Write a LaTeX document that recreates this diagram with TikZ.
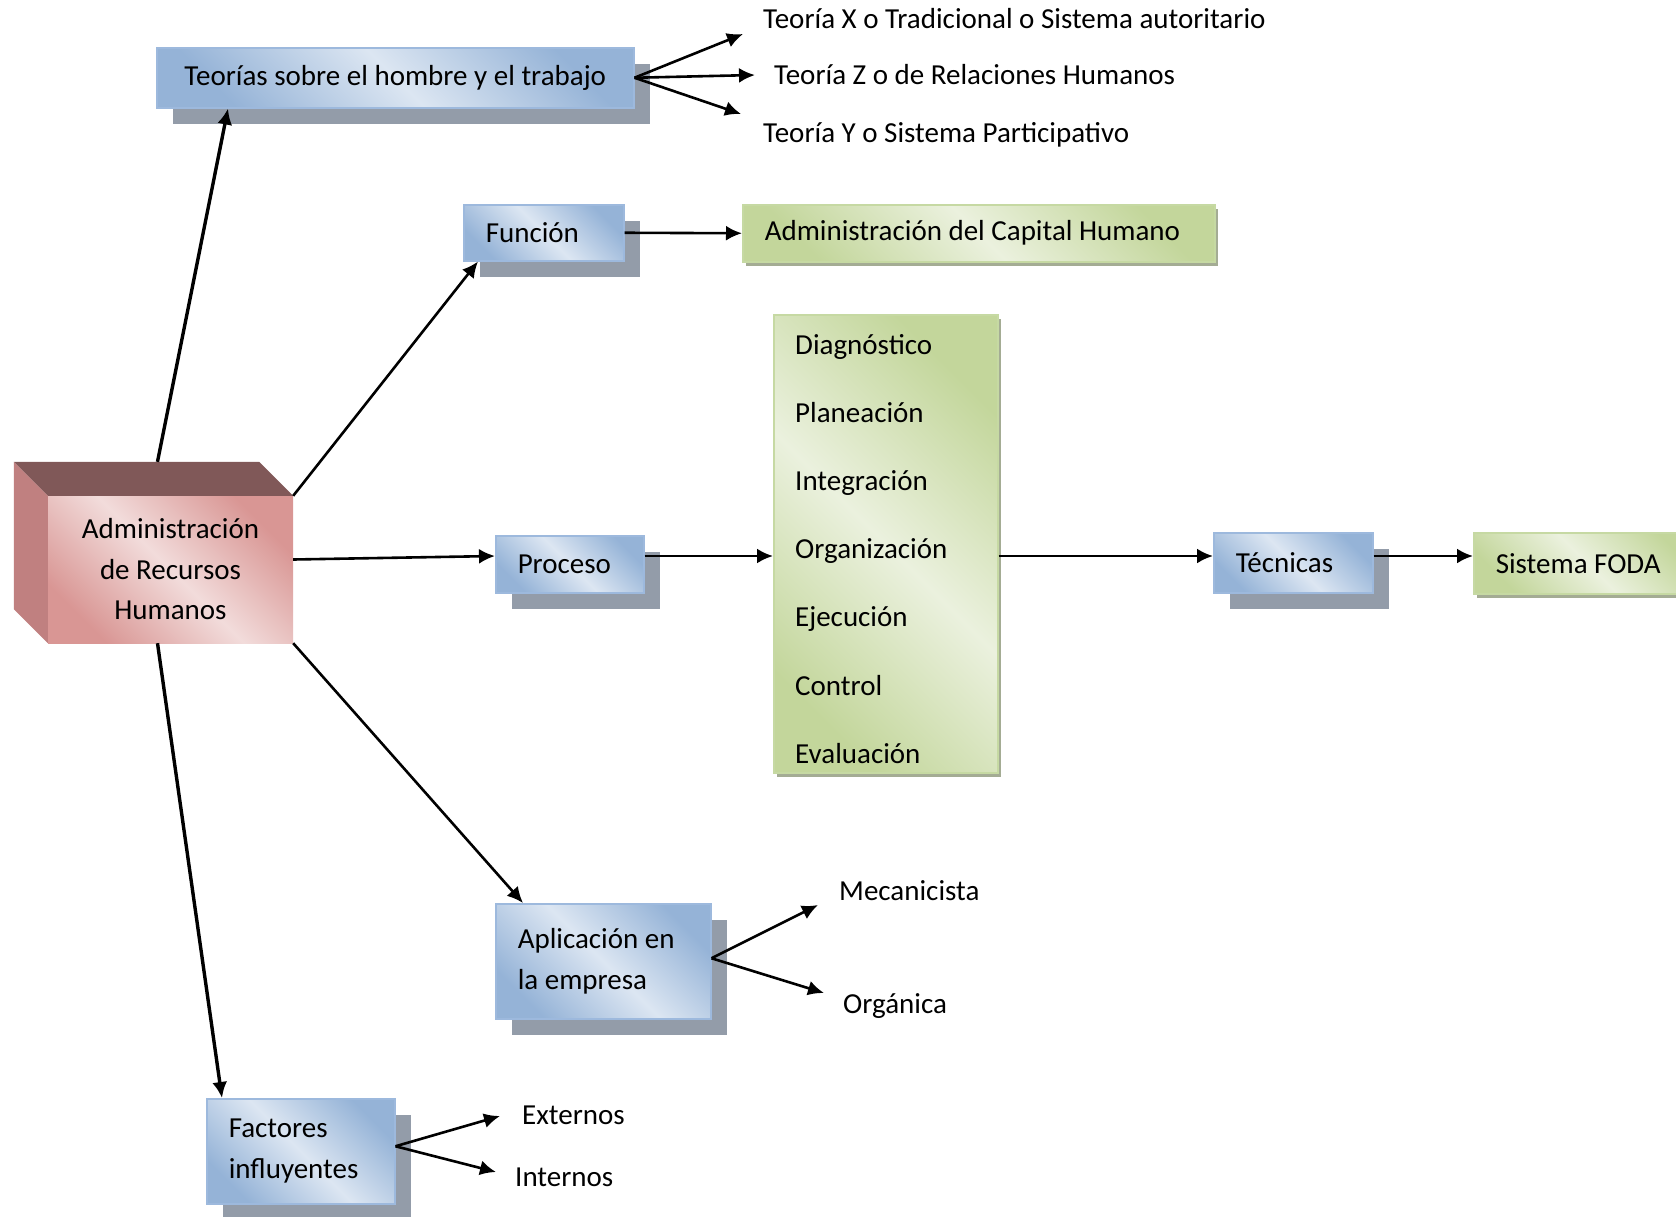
\documentclass[tikz,border=0pt]{standalone}
\usepackage{fontspec}
\setmainfont{Carlito}
\usetikzlibrary{arrows.meta}
\definecolor{azulosc}{HTML}{95B3D7}
\definecolor{azulcla}{HTML}{DCE6F2}
\definecolor{azulborde}{HTML}{9DB9DD}
\definecolor{sombraazul}{HTML}{939CA9}
\definecolor{verdeosc}{HTML}{C3D69B}
\definecolor{verdecla}{HTML}{EBF1DE}
\definecolor{verdeborde}{HTML}{C6D9A3}
\definecolor{sombraverde}{HTML}{A4AC94}
\definecolor{rosaosc}{HTML}{D99694}
\definecolor{rosacla}{HTML}{F2DCDB}
\definecolor{cubotapa}{HTML}{805858}
\definecolor{cubolado}{HTML}{C08080}
\tikzset{
  letra/.style={font=\fontsize{29}{41}\selectfont},
  texto/.style={letra, inner sep=0pt, anchor=west, text height=22pt, text depth=4pt},
  caja/.style={letra, anchor=north west, align=flush left, inner xsep=22pt, inner ysep=0pt},
  azul/.style={caja, draw=azulborde, line width=1.5pt, top color=azulosc, bottom color=azulosc,
    middle color=azulcla, shading angle=-45,
    preaction={fill=sombraazul, transform canvas={shift={(16pt,-16pt)}}}},
  verde/.style={caja, draw=verdeborde, line width=1.5pt, top color=verdeosc, bottom color=verdeosc,
    middle color=verdecla, shading angle=-45,
    preaction={fill=sombraverde, transform canvas={shift={(3pt,-4pt)}}}},
  cubo/.style={font=\fontsize{29}{40.5}\selectfont, align=center, inner sep=0pt,
    minimum width=245pt, minimum height=147pt, top color=rosaosc, bottom color=rosaosc,
    middle color=rosacla, shading angle=-45},
  flecha/.style={-{Latex[length=16pt,width=15pt]}, line width=2.6pt},
  gruesa/.style={flecha, line width=3.4pt},
}
\begin{document}
\begin{tikzpicture}[x=1pt,y=-1pt]
\useasboundingbox (0,0) rectangle (1676,1216);
\clip (0,0) rectangle (1676,1216);
%cubo
\node[cubo] (arh) at (170.5,569.5) {Administración\\de Recursos\\Humanos};
\fill[cubotapa] (arh.north west) -- ++(-34,-34) -- ([shift={(-34,-34)}]arh.north east) -- (arh.north east) -- cycle;
\fill[cubolado] (arh.north west) -- ++(-34,-34) -- ([shift={(-34,-34)}]arh.south west) -- (arh.south west) -- cycle;
%cajas
\node[azul, minimum width=477pt, minimum height=60pt, align=center, inner xsep=0pt] (teorias) at (156,47) {Teorías sobre el hombre y el trabajo};
\node[azul, text width=116pt, minimum height=56pt] (funcion) at (463,204) {Función};
\node[verde, text width=428pt, minimum height=57pt] (capital) at (742,204) {Administración del Capital Humano};
\node[azul, text width=104pt, minimum height=57pt] (proceso) at (495,535) {Proceso};
\node[verde, minimum width=224pt, minimum height=458pt] (pasos) at (773,314) {};
\node[azul, text width=115pt, minimum height=60pt] (tecnicas) at (1213,532) {Técnicas};
\node[verde, text width=183pt, minimum height=61pt] (foda) at (1473,532) {Sistema FODA};
\node[azul, text width=171pt, minimum height=115pt] (aplic) at (495,903) {Aplicación en\\la empresa};
\node[azul, text width=144pt, minimum height=105pt] (factores) at (206,1098) {Factores\\influyentes};
%pasos del proceso
\foreach \paso [count=\i] in {Diagnóstico, Planeación, Integración, Organización, Ejecución, Control, Evaluación}
  \node[texto] (paso\i) at (795,{345+68.2*(\i-1)}) {\paso};
%textos sueltos
\node[texto] (teoX) at (763,19) {Teoría X o Tradicional o Sistema autoritario};
\node[texto] (teoZ) at (774,75) {Teoría Z o de Relaciones Humanos};
\node[texto] (teoY) at (763,133) {Teoría Y o Sistema Participativo};
\node[texto] (mecan) at (839,891) {Mecanicista};
\node[texto] (organ) at (843,1004) {Orgánica};
\node[texto] (exter) at (522,1115) {Externos};
\node[texto] (inter) at (515,1177) {Internos};
\coordinate (puntaX) at (743,34);
\coordinate (puntaZ) at (755,75);
\coordinate (puntaY) at (741,114);
\coordinate (puntaMec) at (818,905);
\coordinate (puntaOrg) at (824,993);
\coordinate (puntaExt) at (500,1116);
\coordinate (puntaInt) at (496,1172);
\coordinate (flujo) at (0,556);
%flechas
\draw[gruesa] ([xshift=-13pt,yshift=34pt]arh.north) -- ([xshift=72pt]teorias.south west);
\draw[flecha] (arh.north east) -- ([xshift=15pt]funcion.south west);
\draw[flecha] ([yshift=10pt]arh.east) -- (proceso.west |- flujo);
\draw[flecha] (arh.south east) -- ([xshift=28pt]aplic.north west);
\draw[gruesa] ([xshift=-13pt]arh.south) -- ([xshift=16pt]factores.north west);
\draw[flecha] (teorias.east) -- (puntaX);
\draw[flecha] (teorias.east) -- (puntaZ);
\draw[flecha] (teorias.east) -- (puntaY);
\draw[flecha] (funcion.east) -- (capital.west);
\draw[flecha] (proceso.east |- flujo) -- (pasos.west |- flujo);
\draw[flecha] (pasos.east |- flujo) -- (tecnicas.west |- flujo);
\draw[flecha] (tecnicas.east |- flujo) -- (foda.west |- flujo);
\draw[flecha] ([yshift=3pt]aplic.east) -- (puntaMec);
\draw[flecha] ([yshift=3pt]aplic.east) -- (puntaOrg);
\draw[flecha] ([yshift=5pt]factores.east) -- (puntaExt);
\draw[flecha] ([yshift=5pt]factores.east) -- (puntaInt);
\end{tikzpicture}
\end{document}
